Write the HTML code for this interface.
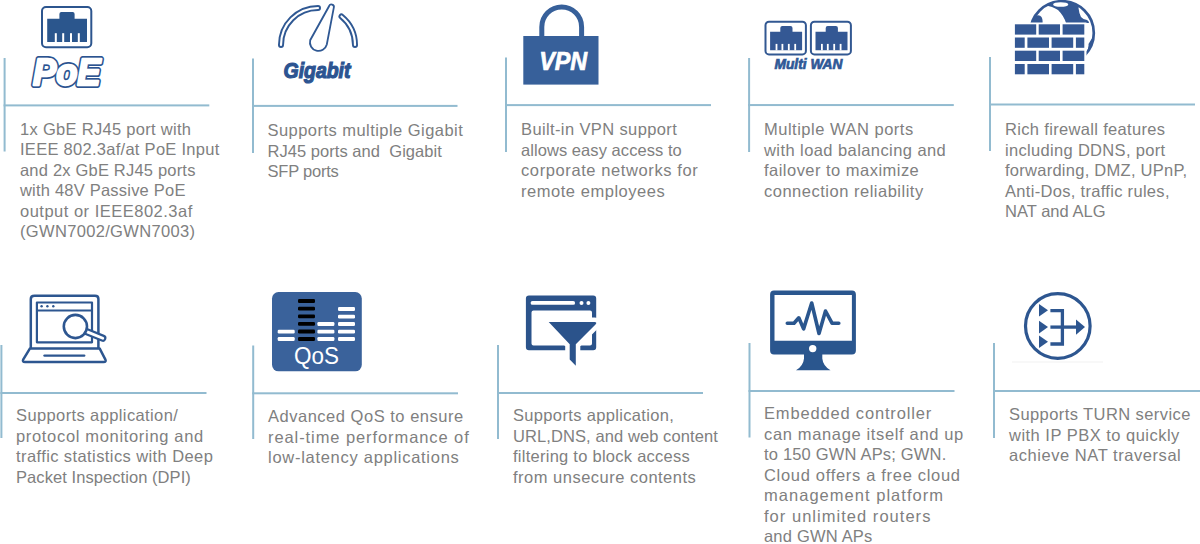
<!DOCTYPE html>
<html>
<head>
<meta charset="utf-8">
<style>
html,body{margin:0;padding:0;background:#fff;}
body{width:1200px;height:544px;position:relative;overflow:hidden;font-family:"Liberation Sans",sans-serif;}
.t{position:absolute;font-size:16.5px;line-height:20.5px;color:#808080;white-space:nowrap;}
svg{position:absolute;overflow:visible;}
</style>
</head>
<body>
<!-- LINES -->
<svg width="1200" height="544" style="left:0;top:0" fill="#92bbd0">
<rect x="3.60" y="58" width="2" height="93.50"/><rect x="3.60" y="104.40" width="205.70" height="2"/>
<rect x="252.00" y="58.5" width="2" height="94.50"/><rect x="252.00" y="104.90" width="205.50" height="2"/>
<rect x="505.00" y="57.5" width="2" height="94.50"/><rect x="505.00" y="104.10" width="206.00" height="2"/>
<rect x="748.10" y="58" width="2" height="94.00"/><rect x="748.10" y="104.05" width="205.70" height="2"/>
<rect x="989.00" y="57" width="2" height="94.00"/><rect x="989.00" y="103.50" width="206.00" height="2"/>
<rect x="0.40" y="345" width="2" height="93.00"/><rect x="0.40" y="392.00" width="206.10" height="2"/>
<rect x="252.20" y="345.5" width="2" height="93.50"/><rect x="252.20" y="392.30" width="205.80" height="2"/>
<rect x="497.00" y="345" width="2" height="94.00"/><rect x="497.00" y="392.00" width="206.00" height="2"/>
<rect x="748.50" y="343" width="2" height="94.50"/><rect x="748.50" y="390.00" width="206.00" height="2"/>
<rect x="993.00" y="343" width="2" height="95.00"/><rect x="993.00" y="390.00" width="207.00" height="2"/>
</svg>
<!-- TEXT START -->
<div class="t" style="left:20px;top:118.5px"><div style="letter-spacing:0.296px">1x GbE RJ45 port with</div><div style="letter-spacing:0.277px">IEEE 802.3af/at PoE Input</div><div style="letter-spacing:0.194px">and 2x GbE RJ45 ports</div><div style="letter-spacing:0.209px">with 48V Passive PoE</div><div style="letter-spacing:0.496px">output or IEEE802.3af</div><div style="letter-spacing:0.329px">(GWN7002/GWN7003)</div></div>
<div class="t" style="left:267.5px;top:120px"><div style="letter-spacing:0.456px">Supports multiple Gigabit</div><div style="letter-spacing:0.043px">RJ45 ports and&nbsp; Gigabit</div><div style="letter-spacing:-0.22px">SFP ports</div></div>
<div class="t" style="left:521px;top:119px"><div style="letter-spacing:0.38px">Built-in VPN support</div><div style="letter-spacing:0.061px">allows easy access to</div><div style="letter-spacing:0.602px">corporate networks for</div><div style="letter-spacing:0.538px">remote employees</div></div>
<div class="t" style="left:764px;top:119px"><div style="letter-spacing:0.506px">Multiple WAN ports</div><div style="letter-spacing:0.424px">with load balancing and</div><div style="letter-spacing:0.474px">failover to maximize</div><div style="letter-spacing:0.505px">connection reliability</div></div>
<div class="t" style="left:1005px;top:119px"><div style="letter-spacing:0.331px">Rich firewall features</div><div style="letter-spacing:0.317px">including DDNS, port</div><div style="letter-spacing:0.263px">forwarding, DMZ, UPnP,</div><div style="letter-spacing:0.308px">Anti-Dos, traffic rules,</div><div style="letter-spacing:0.022px">NAT and ALG</div></div>
<div class="t" style="left:16px;top:405px"><div style="letter-spacing:0.385px">Supports application/</div><div style="letter-spacing:0.671px">protocol monitoring and</div><div style="letter-spacing:0.406px">traffic statistics with Deep</div><div style="letter-spacing:0.067px">Packet Inspection (DPI)</div></div>
<div class="t" style="left:268px;top:406px"><div style="letter-spacing:0.515px">Advanced QoS to ensure</div><div style="letter-spacing:0.915px">real-time performance of</div><div style="letter-spacing:0.719px">low-latency applications</div></div>
<div class="t" style="left:513px;top:405px"><div style="letter-spacing:0.335px">Supports application,</div><div style="letter-spacing:0.091px">URL,DNS, and web content</div><div style="letter-spacing:0.259px">filtering to block access</div><div style="letter-spacing:0.494px">from unsecure contents</div></div>
<div class="t" style="left:764px;top:403px"><div style="letter-spacing:0.83px">Embedded controller</div><div style="letter-spacing:0.648px">can manage itself and up</div><div style="letter-spacing:0.184px">to 150 GWN APs; GWN.</div><div style="letter-spacing:0.688px">Cloud offers a free cloud</div><div style="letter-spacing:1.028px">management platform</div><div style="letter-spacing:1.029px">for unlimited routers</div><div style="letter-spacing:0.192px">and GWN APs</div></div>
<div class="t" style="left:1009px;top:404px"><div style="letter-spacing:0.419px">Supports TURN service</div><div style="letter-spacing:0.482px">with IP PBX to quickly</div><div style="letter-spacing:0.55px">achieve NAT traversal</div></div>
<!-- TEXT END -->
<svg width="1200" height="544" viewBox="0 0 1200 544" style="left:0;top:0">
<defs></defs>
<!-- ICON 1: PoE -->
<g fill="none" stroke="#2c558e">
<rect x="42" y="7" width="49.3" height="40.2" rx="4" stroke-width="2"/>
</g>
<path fill="#2b568d" d="M47.2 18.8 H59.4 V14.1 Q59.4 12.1 61.4 12.1 H72.6 Q74.6 12.1 74.6 14.1 V18.8 H87 V42 H47.2 Z"/>
<g fill="#fff">
<rect x="54.8" y="33.2" width="2" height="9"/>
<rect x="62.2" y="33.2" width="2" height="9"/>
<rect x="70" y="33.2" width="2" height="9"/>
<rect x="77.8" y="33.2" width="2" height="9"/>
</g>
<g font-family="Liberation Sans" font-weight="bold" font-style="italic" font-size="37" stroke-linejoin="round">
<text x="33" y="85" stroke="#2b5390" stroke-width="5.8" fill="#2b5390" textLength="67.5" lengthAdjust="spacingAndGlyphs">PoE</text>
<text x="33" y="85" stroke="#fff" stroke-width="2.4" fill="#fff" textLength="67.5" lengthAdjust="spacingAndGlyphs">PoE</text>
</g>

<!-- ICON 2: Gauge -->
<g fill="none" stroke-linecap="round">
<path d="M281 45 A37 37 0 0 1 318 8" stroke="#2f5893" stroke-width="6"/>
<path d="M281 45 A37 37 0 0 1 318 8" stroke="#fff" stroke-width="2.2"/>
<path d="M341.5 16.5 A37 37 0 0 1 355 45" stroke="#2f5893" stroke-width="6"/>
<path d="M341.5 16.5 A37 37 0 0 1 355 45" stroke="#fff" stroke-width="2.2"/>
</g>
<path d="M329 6.3 A2.5 2.5 0 0 1 333.8 7.7 L326.8 44.5 A8.4 8.4 0 1 1 310.2 40.2 Z" fill="#fff" stroke="#2f5893" stroke-width="1.8"/>
<text x="283.5" y="78" font-family="Liberation Sans" font-weight="bold" font-style="italic" font-size="22" fill="#2c5491" stroke="#2c5491" stroke-width="1.2" textLength="67" lengthAdjust="spacingAndGlyphs">Gigabit</text>

<!-- ICON 3: VPN -->
<path d="M541.8 37 V26.9 A19.9 19.9 0 0 1 581.6 26.9 V37" fill="none" stroke="#37609a" stroke-width="5"/>
<rect x="523.3" y="36" width="75.2" height="48.6" fill="#37609a"/>
<text x="539.2" y="69.7" font-family="Liberation Sans" font-weight="bold" font-style="italic" font-size="26" fill="#fff" stroke="#fff" stroke-width="0.7" textLength="48" lengthAdjust="spacingAndGlyphs">VPN</text>

<!-- ICON 4: Multi WAN -->
<g fill="none" stroke="#325892" stroke-width="2">
<rect x="765.5" y="21.8" width="40.4" height="32.6" rx="3.5"/>
<rect x="810.9" y="21.8" width="40" height="32.6" rx="3.5"/>
</g>
<g fill="#345894">
<path d="M770.1 31.8 H780.3 V28.1 Q780.3 26.1 782.3 26.1 H790.5 Q792.5 26.1 792.5 28.1 V31.8 H802.1 V50.3 H770.1 Z"/>
<path d="M815.5 31.8 H825.7 V28.1 Q825.7 26.1 827.7 26.1 H835.9 Q837.9 26.1 837.9 28.1 V31.8 H847.5 V50.3 H815.5 Z"/>
</g>
<g fill="#fff">
<rect x="775.6" y="43.9" width="1.8" height="6.5"/>
<rect x="781.5" y="43.9" width="1.8" height="6.5"/>
<rect x="787.9" y="43.9" width="1.8" height="6.5"/>
<rect x="794.3" y="43.9" width="1.8" height="6.5"/>
<rect x="821" y="43.9" width="1.8" height="6.5"/>
<rect x="826.9" y="43.9" width="1.8" height="6.5"/>
<rect x="833.3" y="43.9" width="1.8" height="6.5"/>
<rect x="839.7" y="43.9" width="1.8" height="6.5"/>
</g>
<text x="774.5" y="68.8" font-family="Liberation Sans" font-weight="bold" font-style="italic" font-size="14" fill="#2f5896" stroke="#2f5896" stroke-width="0.7" textLength="68" lengthAdjust="spacingAndGlyphs">Multi WAN</text>

<!-- ICON 5: Firewall -->
<clipPath id="gc"><circle cx="1062" cy="33" r="32"/></clipPath>
<circle cx="1062" cy="33" r="31.8" fill="#fff" stroke="#345894" stroke-width="2.7"/>
<g clip-path="url(#gc)" fill="#345894">
<path d="M1043 0 L1080 0 L1078.5 8 Q1079 13 1081 17 Q1083 19.5 1087 20 Q1089 21 1089 23 L1066 23 Q1064 16 1058 10 Q1053 6.5 1044 5 Z"/>
<path d="M1028 23 Q1032 17 1036 15.5 Q1040 14.5 1041.5 17 Q1043 19.5 1042.5 23 Z"/>
<path d="M1095 33 Q1094 45 1088 55 L1086 53 Q1089 48 1088.5 44 Q1091 40 1095 33 Z"/>
</g>
<ellipse cx="1060.7" cy="4.5" rx="7.6" ry="2.3" fill="#fff"/>
<rect x="1013" y="22.5" width="73.5" height="54" fill="#fff"/>
<g fill="#345894">
<rect x="1014.9" y="24.3" width="21.3" height="10.3"/>
<rect x="1038.7" y="24.3" width="21.3" height="10.3"/>
<rect x="1062.6" y="24.3" width="21.7" height="10.3"/>
<rect x="1014.9" y="37.5" width="9.8" height="10.3"/>
<rect x="1027.4" y="37.5" width="21.6" height="10.3"/>
<rect x="1051.6" y="37.5" width="21.6" height="10.3"/>
<rect x="1075.9" y="37.5" width="8.4" height="10.3"/>
<rect x="1014.9" y="50.7" width="21.3" height="10.3"/>
<rect x="1038.7" y="50.7" width="21.3" height="10.3"/>
<rect x="1062.6" y="50.7" width="21.7" height="10.3"/>
<rect x="1014.9" y="64" width="9.8" height="10.3"/>
<rect x="1027.4" y="64" width="21.6" height="10.3"/>
<rect x="1051.6" y="64" width="21.6" height="10.3"/>
<rect x="1075.9" y="64" width="8.4" height="10.3"/>
</g>

<!-- ICON 6: Laptop -->
<g fill="none" stroke="#2d5690" stroke-linejoin="round" stroke-linecap="round">
<path d="M30.8 348 V299 Q30.8 295.8 34.5 295.8 H95 Q98.4 295.8 98.4 299 V348" stroke-width="2.5"/>
<rect x="36.9" y="302.5" width="55.1" height="39.8" stroke-width="2.2"/>
<line x1="37" y1="310.4" x2="92" y2="310.4" stroke-width="2"/>
<path d="M30 348.4 H99.6 L105.3 359.3 Q106.6 362 103.6 362 H25 Q22 362 23.3 359.3 Z" stroke-width="2.5"/>
<line x1="44.5" y1="355.6" x2="84.2" y2="355.6" stroke-width="2.4"/>
</g>
<g fill="#2d5690">
<circle cx="41.6" cy="306.2" r="1.2"/>
<circle cx="47.4" cy="306.2" r="1.2"/>
<circle cx="53.3" cy="306.2" r="1.2"/>
</g>
<path d="M86 331.4 L102.8 338.2" stroke="#2d5690" stroke-width="7.2" stroke-linecap="round"/>
<path d="M86 331.4 L102.8 338.2" stroke="#fff" stroke-width="2.8" stroke-linecap="round"/>
<circle cx="75.4" cy="326.5" r="11.6" fill="#fff" stroke="#2d5690" stroke-width="2.6"/>

<!-- ICON 7: QoS -->
<rect x="272" y="292" width="89.8" height="79.3" rx="6.5" fill="#3a629b"/>
<rect x="277.7" y="329.7" width="17" height="3.8" rx="1.2" fill="#fff"/><rect x="277.7" y="337.1" width="17" height="3.8" rx="1.2" fill="#fff"/>
<rect x="298" y="299.1" width="17" height="3.8" rx="1.2" fill="#000"/><rect x="298" y="306.7" width="17" height="3.8" rx="1.2" fill="#000"/><rect x="298" y="314.4" width="17" height="3.8" rx="1.2" fill="#000"/><rect x="298" y="322.0" width="17" height="3.8" rx="1.2" fill="#000"/><rect x="298" y="329.6" width="17" height="3.8" rx="1.2" fill="#000"/><rect x="298" y="337.1" width="17" height="3.8" rx="1.2" fill="#000"/>
<rect x="317.4" y="322.1" width="17" height="3.8" rx="1.2" fill="#fff"/><rect x="317.4" y="329.7" width="17" height="3.8" rx="1.2" fill="#fff"/><rect x="317.4" y="337.1" width="17" height="3.8" rx="1.2" fill="#fff"/>
<rect x="338" y="307.1" width="17" height="3.8" rx="1.2" fill="#fff"/><rect x="338" y="314.7" width="17" height="3.8" rx="1.2" fill="#fff"/><rect x="338" y="322.1" width="17" height="3.8" rx="1.2" fill="#fff"/><rect x="338" y="329.7" width="17" height="3.8" rx="1.2" fill="#fff"/><rect x="338" y="337.1" width="17" height="3.8" rx="1.2" fill="#fff"/>
<text x="294" y="364" font-family="Liberation Sans" font-size="23" fill="#fff" textLength="45" lengthAdjust="spacingAndGlyphs">QoS</text>

<!-- ICON 8: Filter -->
<path fill-rule="evenodd" fill="#2b538b" d="M529 295.6 H593.2 Q596.2 295.6 596.2 298.6 V347.3 Q596.2 350.3 593.2 350.3 H529 Q525.9 350.3 525.9 347.3 V298.6 Q525.9 295.6 529 295.6 Z M533.5 310.6 Q531.5 310.6 531.5 312.6 V343.6 Q531.5 345.6 533.5 345.6 H590 Q592 345.6 592 343.6 V312.6 Q592 310.6 590 310.6 Z"/>
<rect x="530.6" y="301" width="44.5" height="3.8" rx="1.9" fill="#fff"/>
<circle cx="581.5" cy="303" r="2" fill="#fff"/>
<circle cx="588.4" cy="303" r="2" fill="#fff"/>
<path d="M548.7 322 H594.5 Q597.5 322 595.5 324.5 L575.8 344.3 V365.8 L569.7 359.5 V344.3 Z" fill="#2b538b" stroke="#fff" stroke-width="9" stroke-linejoin="round" paint-order="stroke"/>

<!-- ICON 9: Monitor -->
<path fill-rule="evenodd" fill="#2a568e" d="M774 290.5 H852 Q855.9 290.5 855.9 294.5 V350.5 Q855.9 354.5 852 354.5 H774 Q770.1 354.5 770.1 350.5 V294.5 Q770.1 290.5 774 290.5 Z M774.5 294.9 V340.7 H851.9 V294.9 Z"/>
<circle cx="812.7" cy="348.6" r="3.7" fill="#fff"/>
<path fill="#2a568e" d="M804 354 H822.3 V358.5 Q823 366 830.5 370.3 H796 Q803.3 366 804 358.5 Z"/>
<polyline points="787.3,323.2 794,323.2 798.8,317.8 803.6,328.9 811.7,303 819,333.5 825.5,311 832,323.2 838.8,323.2" fill="none" stroke="#2a568e" stroke-width="3.6" stroke-linejoin="round" stroke-linecap="round"/>

<!-- ICON 10: TURN -->
<rect x="1012" y="361.5" width="91" height="1" fill="#f1f1f1"/>
<circle cx="1057.8" cy="326" r="32.3" fill="none" stroke="#2d5690" stroke-width="3.2"/>
<g fill="#2d5690">
<path d="M1039 304 L1048 310.3 L1039 316.6 Z"/>
<path d="M1039 320.8 L1048 327.1 L1039 333.4 Z"/>
<path d="M1039 335.5 L1048 341.8 L1039 348.1 Z"/>
<path d="M1076 319.4 L1085 327.1 L1076 334.8 Z"/>
</g>
<g fill="none" stroke="#2d5690" stroke-width="3.3">
<path d="M1050.4 310.7 H1062.4 V344 H1050.4"/>
<line x1="1050.4" y1="327.1" x2="1077" y2="327.1"/>
</g>
</svg>
</body>
</html>
